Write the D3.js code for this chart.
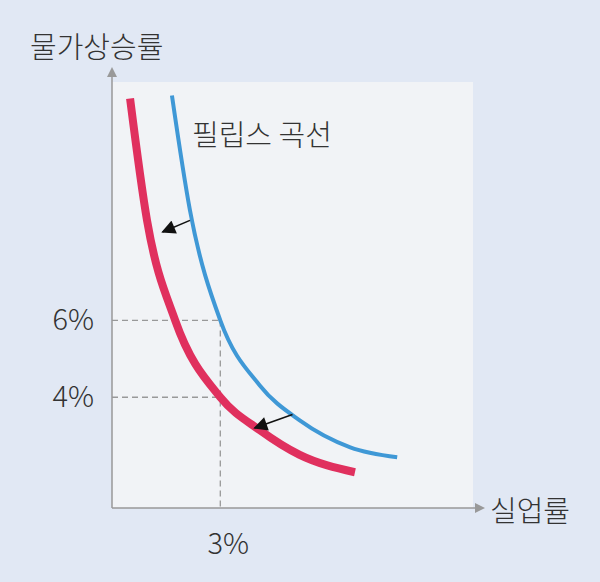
<!DOCTYPE html>
<html><head><meta charset="utf-8">
<script src="https://cdn.jsdelivr.net/npm/d3@7"></script>
<style>body{margin:0;background:#e1e8f4}</style></head>
<body><svg id="c" width="600" height="582"></svg>
<script>
const redCurve = [[0.5,11.77],[0.97,8.6],[1.75,6],[3,4],[4.1,3.14],[5.2,2.5],[6.73,2.05]];
const blueCurve = [[1.66,11.85],[2.16,8.86],[3,6],[4.1,4.3],[5.2,3.4],[6.6,2.7],[7.9,2.44]];
const arrows = [[[2.16,8.6],[1.4,8.3]],[[5.0,3.55],[3.95,3.2]]];
const yTicks = [4,6];
const xTicks = [3];
const labels = {y:"물가상승률", x:"실업률", curve:"필립스 곡선"};

const svg = d3.select("#c");
const x = d3.scaleLinear().domain([0,10]).range([112,473]);
const y = d3.scaleLinear().domain([1.12,12.2]).range([508,82]);
const font = "'Noto Sans CJK KR','Noto Sans',sans-serif";

svg.append("rect").attr("x",112).attr("y",82).attr("width",361).attr("height",426).attr("fill","#f1f3f6");
const defs = svg.append("defs");
defs.append("marker").attr("id","ah").attr("viewBox","0 0 10 10").attr("refX",9).attr("refY",5)
 .attr("markerWidth",16).attr("markerHeight",14).attr("markerUnits","userSpaceOnUse").attr("orient","auto")
 .append("path").attr("d","M0,0L10,5L0,10z").attr("fill","#111");
defs.append("marker").attr("id","ax").attr("viewBox","0 0 10 10").attr("refX",5).attr("refY",5)
 .attr("markerWidth",10).attr("markerHeight",10).attr("markerUnits","userSpaceOnUse").attr("orient","auto")
 .append("path").attr("d","M0,0L10,5L0,10z").attr("fill","#999");

const g = svg.append("g").attr("stroke","#999").attr("stroke-dasharray","6,4").attr("stroke-width",1.3);
yTicks.forEach(v=>g.append("line").attr("x1",x(0)).attr("x2",x(3)).attr("y1",y(v)).attr("y2",y(v)));
g.append("line").attr("x1",x(3)).attr("x2",x(3)).attr("y1",y(6)).attr("y2",y(1.12));

svg.append("line").attr("x1",112).attr("y1",508).attr("x2",112).attr("y2",72).attr("stroke","#999").attr("stroke-width",1.5).attr("marker-end","url(#ax)");
svg.append("line").attr("x1",112).attr("y1",508).attr("x2",480).attr("y2",508).attr("stroke","#999").attr("stroke-width",1.5).attr("marker-end","url(#ax)");

const line = d3.line().x(d=>x(d[0])).y(d=>y(d[1])).curve(d3.curveMonotoneX);
svg.append("path").attr("d",line(blueCurve)).attr("fill","none").attr("stroke","#3f98d6").attr("stroke-width",4);
svg.append("path").attr("d",line(redCurve)).attr("fill","none").attr("stroke","#e0305e").attr("stroke-width",8);

arrows.forEach(a=>svg.append("line").attr("x1",x(a[0][0])).attr("y1",y(a[0][1])).attr("x2",x(a[1][0])).attr("y2",y(a[1][1]))
 .attr("stroke","#111").attr("stroke-width",1.5).attr("marker-end","url(#ah)"));

const t = (s,px,py,anchor)=>svg.append("text").text(s).attr("x",px).attr("y",py).attr("text-anchor",anchor)
 .attr("font-family",font).attr("font-size",29).attr("font-weight",300).attr("fill","#333");
yTicks.forEach(v=>t(v+"%",94,y(v)+10,"end"));
xTicks.forEach(v=>t(v+"%",x(v)+8,554,"middle"));
t(labels.y,30,58,"start");
t(labels.x,490,522,"start");
t(labels.curve,192,146,"start");
</script></body></html>
